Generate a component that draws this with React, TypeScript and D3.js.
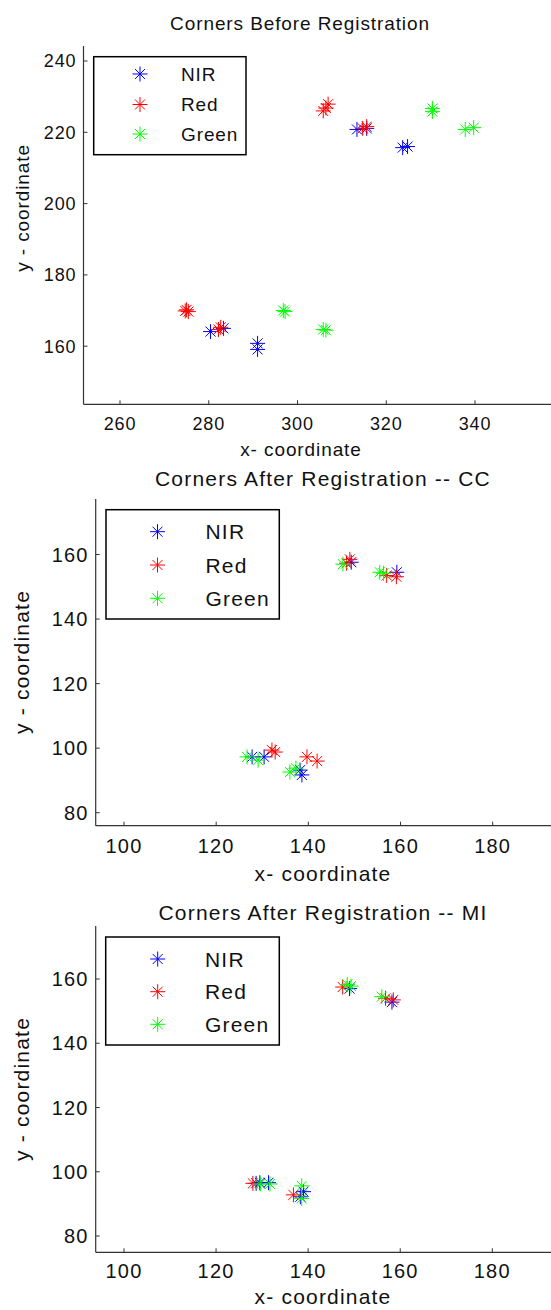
import { useEffect, useRef } from "react";
import * as d3 from "d3";

// Datos: [x, y] de cada esquina detectada, por canal y por etapa
const seriesNames = ["NIR", "Red", "Green"];
const seriesColors = ["#0000ff", "#ff0000", "#00ff00"];

const nirBefore = [[313.4, 220.8], [315.6, 221.1], [323.7, 215.7], [324.8, 216.0], [280.4, 164.1], [283.3, 165.0], [291.0, 160.8], [291.0, 159.1]];
const redBefore = [[305.8, 226.0], [306.9, 227.9], [306.4, 226.8], [314.7, 221.1], [315.6, 221.6], [274.7, 169.9], [275.4, 169.7], [275.0, 170.2], [282.2, 164.7], [282.7, 165.3]];
const greenBefore = [[330.4, 226.7], [330.4, 225.8], [337.8, 220.8], [339.7, 221.3], [297.2, 169.7], [296.8, 170.0], [306.4, 164.5], [305.8, 164.7]];

const nirCC = [[127.8, 97.3], [130.4, 97.3], [138.2, 93.2], [138.6, 91.7], [149.3, 157.6], [159.2, 154.5]];
const redCC = [[132.1, 99.4], [132.8, 98.8], [139.7, 97.3], [141.9, 96.0], [149.0, 158.5], [148.3, 157.3], [157.0, 153.5], [159.1, 153.1]];
const greenCC = [[126.7, 97.3], [129.1, 96.3], [136.0, 92.6], [137.3, 93.8], [147.5, 157.0], [155.5, 154.5], [156.3, 154.2]];

const nirMI = [[128.7, 96.4], [129.5, 96.6], [131.4, 96.6], [138.3, 92.2], [139.0, 93.8], [149.0, 157.0], [158.2, 152.8]];
const redMI = [[128.0, 96.4], [136.8, 92.8], [147.5, 157.5], [156.8, 154.0], [158.5, 153.5]];
const greenMI = [[129.6, 96.2], [131.7, 96.2], [138.6, 95.6], [138.6, 91.7], [148.5, 158.3], [149.3, 157.8], [156.0, 154.5]];

const ticksBeforeX = [260, 280, 300, 320, 340];
const ticksBeforeY = [160, 180, 200, 220, 240];
const ticksAfterX = [100, 120, 140, 160, 180];
const ticksAfterY = [80, 100, 120, 140, 160];

const FONT = "'Liberation Sans', Arial, Helvetica, sans-serif";

const panels = [
  {
    title: "Corners Before Registration",
    series: [nirBefore, redBefore, greenBefore],
    ticksX: ticksBeforeX, ticksY: ticksBeforeY,
    xDom: [260, 340], xRange: [120, 475],
    yDom: [160, 240], yRange: [346.2, 61],
    left: 83.5, right: 551, top: 46, bottom: 404.3,
    titleX: 300, titleY: 30, xLabelX: 301, xLabelY: 456, tickY: 430,
    yLabelX: 29, yLabelY: 208,
    legend: { x0: 93.7, x1: 246, y0: 56.7, rows: [74, 104.5, 134], mx: 140, tx: 181 },
    fs: 18, titleFs: 19, legendFs: 19, ls: 0.9,
  },
  {
    title: "Corners After Registration -- CC",
    series: [nirCC, redCC, greenCC],
    ticksX: ticksAfterX, ticksY: ticksAfterY,
    xDom: [100, 180], xRange: [124, 492.7],
    yDom: [80, 160], yRange: [812.7, 554.5],
    left: 95.7, right: 551, top: 499, bottom: 825.7,
    titleX: 323, titleY: 486, xLabelX: 323, xLabelY: 881, tickY: 853,
    yLabelX: 29, yLabelY: 662,
    legend: { x0: 106, x1: 279.3, y0: 509.7, rows: [531.7, 565, 598.3], mx: 157.5, tx: 205.5 },
    fs: 20, titleFs: 21, legendFs: 21, ls: 1.2,
  },
  {
    title: "Corners After Registration -- MI",
    series: [nirMI, redMI, greenMI],
    ticksX: ticksAfterX, ticksY: ticksAfterY,
    xDom: [100, 180], xRange: [124, 492.3],
    yDom: [80, 160], yRange: [1236, 979],
    left: 95.7, right: 551, top: 926, bottom: 1252.3,
    titleX: 323, titleY: 920, xLabelX: 323, xLabelY: 1304, tickY: 1278,
    yLabelX: 29, yLabelY: 1089,
    legend: { x0: 105.7, x1: 279.3, y0: 937, rows: [959, 991.7, 1024.3], mx: 157.7, tx: 205 },
    fs: 20, titleFs: 21, legendFs: 21, ls: 1.2,
  },
];

// asterisco estilo MATLAB: "+" más una "x" corta
const asterisk = (h, d) =>
  `M${-h},0H${h}M0,${-h}V${h}M${-d},${-d}L${d},${d}M${-d},${d}L${d},${-d}`;

const App = () => {
  const ref = useRef(null);

  useEffect(() => {
    if (!ref.current) return;
    const svg = d3.select(ref.current);
    svg.selectAll("*").remove();

    panels.forEach((p) => {
      const g = svg.append("g");
      const x = d3.scaleLinear().domain(p.xDom).range(p.xRange);
      const y = d3.scaleLinear().domain(p.yDom).range(p.yRange);

      // Ejes (solo izquierda y abajo)
      g.append("line")
        .attr("x1", p.left).attr("x2", p.right)
        .attr("y1", p.bottom).attr("y2", p.bottom)
        .attr("stroke", "#333").attr("stroke-width", 1.2);
      g.append("line")
        .attr("x1", p.left).attr("x2", p.left)
        .attr("y1", p.top).attr("y2", p.bottom)
        .attr("stroke", "#333").attr("stroke-width", 1.2);

      // Ticks X
      p.ticksX.forEach((t) => {
        g.append("line")
          .attr("x1", x(t)).attr("x2", x(t))
          .attr("y1", p.bottom).attr("y2", p.bottom - 4)
          .attr("stroke", "#333");
        g.append("text")
          .attr("x", x(t)).attr("y", p.tickY)
          .attr("text-anchor", "middle")
          .style("font-family", FONT).style("font-size", p.fs + "px")
          .style("letter-spacing", p.ls + "px")
          .style("fill", "#111")
          .text(t);
      });

      // Ticks Y
      p.ticksY.forEach((t) => {
        g.append("line")
          .attr("x1", p.left).attr("x2", p.left + 4)
          .attr("y1", y(t)).attr("y2", y(t))
          .attr("stroke", "#333");
        g.append("text")
          .attr("x", p.left - 7).attr("y", y(t))
          .attr("dy", "0.36em")
          .attr("text-anchor", "end")
          .style("font-family", FONT).style("font-size", p.fs + "px")
          .style("letter-spacing", p.ls + "px")
          .style("fill", "#111")
          .text(t);
      });

      // Título y etiquetas
      g.append("text")
        .attr("x", p.titleX).attr("y", p.titleY)
        .attr("text-anchor", "middle")
        .style("font-family", FONT).style("font-size", p.titleFs + "px")
        .style("letter-spacing", p.ls + "px")
        .style("fill", "#111")
        .text(p.title);
      g.append("text")
        .attr("x", p.xLabelX).attr("y", p.xLabelY)
        .attr("text-anchor", "middle")
        .style("font-family", FONT).style("font-size", p.titleFs + "px")
        .style("letter-spacing", p.ls + "px")
        .style("fill", "#111")
        .text("x- coordinate");
      g.append("text")
        .attr("transform", `translate(${p.yLabelX},${p.yLabelY}) rotate(-90)`)
        .attr("text-anchor", "middle")
        .style("font-family", FONT).style("font-size", p.titleFs + "px")
        .style("letter-spacing", p.ls + "px")
        .style("fill", "#111")
        .text("y - coordinate");

      // Puntos
      p.series.forEach((pts, i) => {
        g.append("g").selectAll("path")
          .data(pts)
          .enter()
          .append("path")
          .attr("transform", (d) => `translate(${x(d[0])},${y(d[1])})`)
          .attr("d", asterisk(7.5, 5))
          .attr("fill", "none")
          .attr("stroke", seriesColors[i])
          .attr("stroke-width", 1);
      });

      // Leyenda
      const L = p.legend;
      const boxBottom = L.rows[2] + 20.7;
      g.append("rect")
        .attr("x", L.x0).attr("y", L.y0)
        .attr("width", L.x1 - L.x0).attr("height", boxBottom - L.y0)
        .attr("fill", "#fff").attr("stroke", "#000").attr("stroke-width", 1.5);
      seriesNames.forEach((name, i) => {
        g.append("path")
          .attr("transform", `translate(${L.mx},${L.rows[i]})`)
          .attr("d", asterisk(7.5, 5))
          .attr("fill", "none")
          .attr("stroke", seriesColors[i]);
        g.append("text")
          .attr("x", L.tx).attr("y", L.rows[i])
          .attr("dy", "0.36em")
          .style("font-family", FONT).style("font-size", p.legendFs + "px")
          .style("letter-spacing", p.ls + "px")
          .style("fill", "#111")
          .text(name);
      });
    });
  }, []);

  return (
    <svg
      ref={ref}
      width={551}
      height={1310}
      style={{ position: "absolute", left: 0, top: 0, background: "#fff" }}
    />
  );
};

export default App;
